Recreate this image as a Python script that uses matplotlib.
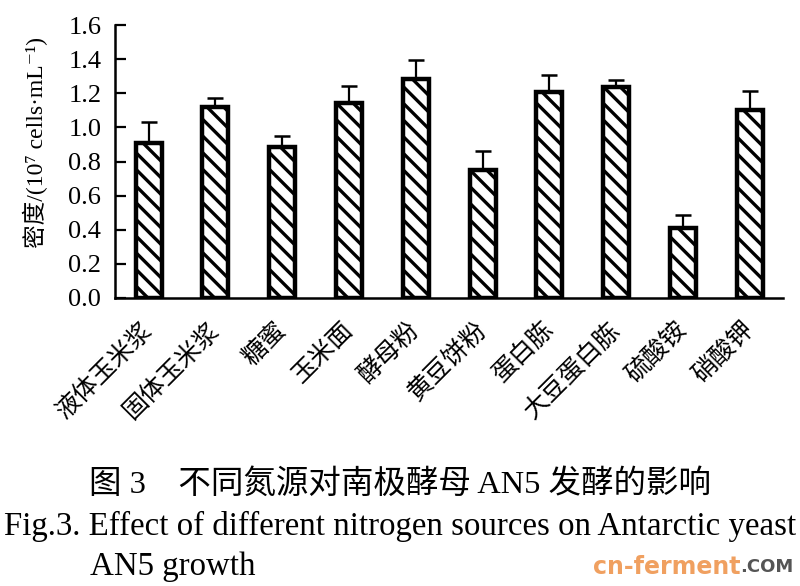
import matplotlib
matplotlib.use("Agg")
import matplotlib.pyplot as plt
import numpy as np

categories = ["液体玉米浆", "固体玉米浆", "糖蜜", "玉米面", "酵母粉",
              "黄豆饼粉", "蛋白胨", "大豆蛋白胨", "硫酸铵", "硝酸钾"]
density = [0.91, 1.12, 0.885, 1.145, 1.285, 0.75, 1.21, 1.24, 0.41, 1.105]
errors = [0.12, 0.055, 0.065, 0.10, 0.11, 0.11, 0.095, 0.04, 0.075, 0.11]
yticks = [0.0, 0.2, 0.4, 0.6, 0.8, 1.0, 1.2, 1.4, 1.6]

FAM = ["Liberation Serif", "Noto Sans CJK SC", "DejaVu Serif"]
plt.rcParams["font.family"] = FAM
plt.rcParams["hatch.linewidth"] = 2.4

fig = plt.figure(figsize=(8.0, 5.86), dpi=100)
ax = fig.add_axes([0.144, 0.4915, 0.835, 0.4655])

x = np.arange(len(categories))
ax.bar(x, density, width=0.39, color="white", edgecolor="black",
       linewidth=3.2, hatch="\\\\", zorder=2)
ax.errorbar(x, density, yerr=[np.zeros(len(errors)), errors], fmt="none",
            ecolor="black", elinewidth=1.6, capsize=5.5, capthick=1.8, zorder=3)

ax.set_xlim(-0.5, len(categories) - 0.5)
ax.set_ylim(0, 1.6)
ax.set_yticks(yticks)
ax.set_yticklabels([f"{t:.1f}" for t in yticks], fontsize=19)
ax.tick_params(axis="y", direction="in", length=8, width=1.6, pad=10)
ax.tick_params(axis="x", length=0, pad=20)
ax.set_xticks(x)
ax.set_xticklabels(categories, rotation=45, ha="right", va="center",
                   rotation_mode="anchor", fontsize=18,
                   family=["Noto Sans CJK SC"])
for s in ["top", "right"]:
    ax.spines[s].set_visible(False)
ax.spines["left"].set_linewidth(1.8)
ax.spines["bottom"].set_linewidth(1.8)

fig.text(0.044, 1 - 143 / 586, "密度/(10⁷ cells·mL⁻¹)", rotation=90,
         ha="center", va="center", fontsize=17, family=FAM)

fig.text(0.5, 1 - 484 / 586, "图 3    不同氮源对南极酵母 AN5 发酵的影响",
         ha="center", va="center", fontsize=23.4, family=FAM)
fig.text(0.5, 1 - 526 / 586,
         "Fig.3. Effect of different nitrogen sources on Antarctic yeast",
         ha="center", va="center", fontsize=23.7, family=FAM)
fig.text(90 / 800, 1 - 567 / 586, "AN5 growth", ha="left", va="center",
         fontsize=23.7, family=FAM)
fig.text(0.925, 1 - 567 / 586, "cn-ferment", ha="right", va="center",
         fontsize=17, fontweight="bold", color="#f0a060",
         family=["DejaVu Sans"])
fig.text(0.925, 1 - 567 / 586, ".COM", ha="left", va="center",
         fontsize=13, fontweight="bold", color="#555555",
         family=["DejaVu Sans"])

fig.savefig("out.png", dpi=100)
